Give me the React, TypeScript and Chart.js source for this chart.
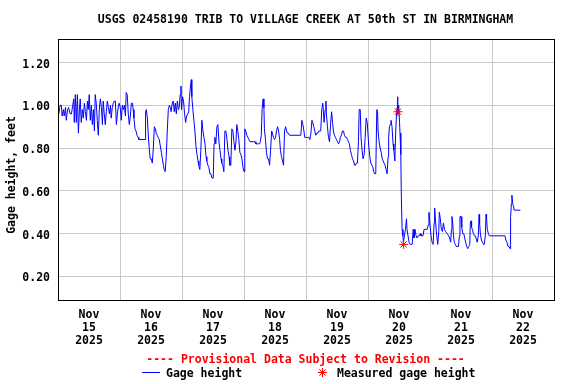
import React, { useEffect, useRef } from 'react';
import { Chart, registerables } from 'chart.js';

Chart.register(...registerables);

const TITLE = 'USGS 02458190 TRIB TO VILLAGE CREEK AT 50th ST IN BIRMINGHAM';
const Y_TITLE = 'Gage height, feet';
const PROVISIONAL = '---- Provisional Data Subject to Revision ----';
const LEGEND_LINE = 'Gage height';
const LEGEND_STAR = 'Measured gage height';

// hours since Nov 15 2025 00:00
const hours = [
  -11.7, -11.2, -10.7, -10.4, -9.9, -9.6, -9.1, -8.8, -8.3, -7.9, -7.3, -6.8, -6.3, -5.9, -5.7, -5.3, -4.9, -4.5, -4.1, -3.7,
  -3.4, -3.0, -2.6, -2.2, -1.8, -1.4, -1.0, -0.6, -0.3, 0.1, 0.5, 0.9, 1.3, 1.7, 2.1, 2.4, 2.8, 3.2, 3.6, 4.0,
  4.4, 4.8, 5.2, 5.5, 5.9, 6.3, 6.7, 7.1, 7.5, 7.9, 8.3, 8.6, 9.0, 9.4, 9.8, 10.2, 10.6, 11.0, 11.4, 11.7,
  12.1, 12.5, 12.9, 13.3, 13.7, 14.1, 14.4, 14.8, 15.2, 15.6, 16.0, 16.4, 16.8, 17.1,
  17.4, 17.8, 18.2, 18.6, 19.0, 19.3, 21.7, 21.9, 22.2, 22.6, 22.9, 23.3, 23.7, 24.1, 24.5, 24.9, 25.3, 25.7, 26.0, 26.4,
  26.8, 27.2, 27.6, 28.0, 28.4, 28.8, 29.1, 29.5, 29.9, 30.3, 30.7, 31.1, 31.5, 31.8, 32.2, 32.6, 33.0, 33.4, 33.8, 34.2,
  34.6, 34.9, 35.3, 35.6, 35.8, 36.2, 36.6, 37.0, 37.4, 37.8, 38.2, 38.6, 38.9, 39.3, 39.6, 39.8, 40.2, 40.6, 41.0, 41.4,
  41.8, 42.2, 42.5, 42.9, 43.3, 43.7, 44.1, 44.5, 44.9, 45.3, 45.6, 46.0, 46.4, 46.8, 47.2, 47.6,
  48.1, 48.4, 48.7, 49.1, 49.5, 49.9, 50.3, 50.7, 51.1, 51.4, 51.8, 52.2, 52.6, 53.0, 53.4, 53.8, 54.2, 54.5, 54.9, 55.3,
  55.7, 56.1, 56.5, 56.9, 57.2, 57.6, 58.0, 58.4, 58.8, 59.2, 59.6, 60.0, 60.3, 60.7, 61.1, 61.5, 61.9, 62.3, 64.3, 64.6,
  65.6, 66.0, 66.3, 66.7, 67.0, 67.4, 67.7, 67.9, 68.3, 68.7, 69.1, 69.5, 69.9, 70.3, 70.7, 71.0, 71.4, 71.8, 72.2, 72.6,
  73.0, 73.4, 73.8, 74.1, 74.5, 74.9, 75.3, 75.7, 76.1, 76.5, 76.8, 77.2, 77.6,
  82.0, 82.4, 82.8, 83.2, 83.5, 83.9, 84.3, 84.7, 85.1, 85.5, 85.9, 86.3, 86.6, 87.0, 87.4, 87.8, 88.2, 88.6, 89.0, 89.4,
  89.7, 90.1, 90.5, 90.8, 91.0, 91.4, 91.7, 91.9, 92.3, 92.7, 93.1, 93.5, 93.9, 94.3, 94.6, 95.0, 95.4, 95.8, 96.2, 96.6,
  97.0, 97.3, 97.7, 98.1, 98.5, 98.9, 99.3, 99.7, 100.1, 100.4, 100.8, 101.2, 101.6, 102.0, 102.4, 102.8, 103.1, 103.5, 103.9, 104.3,
  104.6, 105.0, 105.3, 105.7, 106.1, 106.5, 106.9, 107.3, 107.7,
  108.3, 108.7, 109.1, 109.5, 109.9, 110.2, 110.6, 111.0, 111.4, 111.7, 111.9, 112.3, 112.7, 113.1, 113.5, 113.8, 114.2, 114.6, 115.0, 115.4,
  115.8, 116.0, 116.3, 116.6, 116.9, 117.3, 117.7, 118.0, 118.4, 118.7, 119.0, 119.3, 119.4, 119.6, 119.9, 120.2, 120.4, 120.7, 120.9, 121.2,
  121.5, 121.7, 122.1, 122.5, 122.9, 123.1, 123.5, 123.9, 124.3, 124.7, 125.1, 125.5, 125.8, 126.2, 126.6, 127.0, 127.4, 127.8, 128.2, 128.5,
  128.9, 129.3, 129.7, 130.1, 130.5, 130.9, 131.3, 131.6, 132.0, 132.4, 132.8, 133.2, 133.6, 133.8, 134.2, 134.6, 135.0, 135.4, 135.6, 136.0,
  136.4, 136.8, 137.2, 137.6, 138.0,
  138.7, 139.2, 139.6, 140.0, 140.3, 140.5, 140.8, 141.1, 141.4, 141.8, 142.2, 143.0, 143.4, 143.6, 144.0, 144.3, 144.7, 145.1, 145.4, 145.8,
  146.2, 146.6, 147.0, 147.4, 147.6, 147.9, 148.1, 148.4, 148.8, 149.2, 149.6, 150.0, 150.3, 150.7, 151.0, 151.2, 151.5, 151.9, 152.3, 152.7,
  153.0, 153.4, 153.7, 153.9, 154.2, 154.6, 155.0, 161.0, 161.4, 161.8, 162.2, 162.6, 163.0, 163.2, 163.5, 163.7, 164.0, 164.3, 164.6, 167.0,
];

// gage height, feet
const gageHeight = [
  0.96, 1.00, 1.00, 0.95, 0.98, 0.95, 0.99, 0.93, 0.98, 0.99, 0.96, 0.96, 1.00, 1.03, 0.92, 1.05, 0.92, 1.05, 0.87, 0.98,
  1.03, 0.92, 0.98, 0.94, 1.01, 0.97, 0.93, 1.02, 0.98, 1.05, 0.93, 1.00, 0.91, 0.98, 0.88, 1.05, 1.01, 0.93, 0.86, 0.98,
  1.03, 0.99, 0.91, 1.02, 0.96, 0.91, 0.97, 1.02, 0.99, 0.96, 1.00, 0.94, 0.99, 1.01, 1.02, 1.02, 0.91, 0.96, 1.00, 1.01,
  0.99, 0.93, 1.00, 0.98, 1.00, 0.95, 1.06, 1.05, 0.96, 0.91, 0.95, 1.01, 1.01, 0.98,
  0.94, 0.89, 0.88, 0.86, 0.85, 0.84, 0.84, 0.97, 0.98, 0.94, 0.87, 0.80, 0.75, 0.75, 0.73, 0.80, 0.90, 0.89, 0.87, 0.86,
  0.85, 0.84, 0.81, 0.78, 0.75, 0.72, 0.70, 0.69, 0.76, 0.88, 0.98, 1.00, 0.99, 0.97, 1.01, 1.02, 0.97, 1.01, 0.96, 1.02,
  0.98, 0.99, 1.05, 1.09, 0.98, 1.04, 1.02, 0.96, 0.92, 0.95, 0.96, 0.97, 1.04, 1.09, 1.12, 1.04, 0.98, 0.93, 0.88, 0.81,
  0.77, 0.74, 0.72, 0.70, 0.79, 0.93, 0.88, 0.85, 0.82, 0.76, 0.74, 0.72, 0.71, 0.68, 0.68, 0.66,
  0.66, 0.82, 0.85, 0.82, 0.90, 0.91, 0.83, 0.79, 0.75, 0.73, 0.72, 0.69, 0.88, 0.88, 0.84, 0.79, 0.76, 0.72, 0.72, 0.89,
  0.88, 0.83, 0.79, 0.83, 0.91, 0.88, 0.84, 0.78, 0.77, 0.75, 0.71, 0.69, 0.89, 0.88, 0.86, 0.85, 0.84, 0.83, 0.83, 0.82,
  0.82, 0.82, 0.83, 0.86, 0.98, 1.03, 0.99, 0.89, 0.84, 0.78, 0.75, 0.75, 0.72, 0.79, 0.88, 0.87, 0.85, 0.84, 0.85, 0.88,
  0.90, 0.88, 0.84, 0.79, 0.76, 0.74, 0.72, 0.88, 0.90, 0.88, 0.87, 0.87, 0.86,
  0.86, 0.93, 0.91, 0.88, 0.85, 0.85, 0.85, 0.85, 0.85, 0.84, 0.87, 0.93, 0.92, 0.90, 0.88, 0.86, 0.87, 0.87, 0.88, 0.88,
  0.88, 0.98, 1.01, 0.96, 0.92, 0.98, 1.02, 0.96, 0.90, 0.85, 0.83, 0.91, 0.97, 0.92, 0.88, 0.86, 0.85, 0.84, 0.83, 0.82,
  0.83, 0.85, 0.86, 0.88, 0.88, 0.86, 0.85, 0.85, 0.84, 0.83, 0.82, 0.79, 0.77, 0.75, 0.74, 0.72, 0.72, 0.73, 0.73, 0.83,
  0.98, 0.98, 0.85, 0.79, 0.75, 0.77, 0.85, 0.94, 0.92,
  0.81, 0.76, 0.73, 0.72, 0.71, 0.69, 0.68, 0.68, 0.98, 0.97, 0.88, 0.83, 0.80, 0.78, 0.75, 0.75, 0.73, 0.72, 0.70, 0.68,
  0.76, 0.85, 0.90, 0.91, 0.93, 0.90, 0.82, 0.79, 0.74, 0.87, 0.95, 0.99, 1.04, 0.96, 1.00, 0.92, 0.87, 0.77, 0.58, 0.42,
  0.39, 0.36, 0.39, 0.42, 0.47, 0.42, 0.39, 0.36, 0.35, 0.35, 0.35, 0.42, 0.38, 0.42, 0.39, 0.38, 0.39, 0.39, 0.40, 0.39,
  0.39, 0.39, 0.42, 0.42, 0.42, 0.42, 0.44, 0.50, 0.44, 0.39, 0.36, 0.35, 0.45, 0.52, 0.45, 0.39, 0.35, 0.41, 0.50, 0.47,
  0.42, 0.41, 0.45, 0.42, 0.41,
  0.40, 0.39, 0.38, 0.36, 0.42, 0.48, 0.45, 0.39, 0.36, 0.35, 0.34, 0.34, 0.39, 0.48, 0.48, 0.43, 0.40, 0.40, 0.38, 0.36,
  0.34, 0.33, 0.34, 0.35, 0.45, 0.46, 0.43, 0.42, 0.40, 0.39, 0.39, 0.37, 0.36, 0.39, 0.49, 0.45, 0.40, 0.37, 0.36, 0.35,
  0.35, 0.39, 0.49, 0.47, 0.42, 0.40, 0.39, 0.39, 0.37, 0.36, 0.34, 0.34, 0.33, 0.48, 0.54, 0.58, 0.54, 0.53, 0.51, 0.51,
];

const measuredHours = [119.6, 121.8];
const measuredHeight = [0.97, 0.35];

const yTicks = [0.2, 0.4, 0.6, 0.8, 1.0, 1.2];
const dayTicks = [0, 24, 48, 72, 96, 120, 144, 168];
const dayLabels = ['15', '16', '17', '18', '19', '20', '21', '22'];
const monthLabel = 'Nov';
const yearLabel = '2025';
const gridHours = [12, 36, 60, 84, 108, 132, 156];
const X_MIN = -12;
const X_MAX = 180;
const Y_MIN = 0.09;
const Y_MAX = 1.31;

const FONT_FAMILY = '"DejaVu Sans Mono", monospace';
const FONT = `bold 11.5px ${FONT_FAMILY}`;
const GRID = '#c8c8c8';

function drawStar(ctx: CanvasRenderingContext2D, x: number, y: number, r: number) {
  ctx.save();
  ctx.strokeStyle = '#ff0000';
  ctx.lineWidth = 1;
  ctx.beginPath();
  for (let i = 0; i < 4; i++) {
    const a = (i * Math.PI) / 4;
    ctx.moveTo(x - r * Math.cos(a), y - r * Math.sin(a));
    ctx.lineTo(x + r * Math.cos(a), y + r * Math.sin(a));
  }
  ctx.stroke();
  ctx.restore();
}

const decorPlugin = {
  id: 'decor',
  afterDraw(chart: any) {
    const ctx: CanvasRenderingContext2D = chart.ctx;
    const a = chart.chartArea;
    ctx.save();
    // frame
    ctx.strokeStyle = '#000';
    ctx.lineWidth = 1;
    ctx.strokeRect(Math.round(a.left) + 0.5, Math.round(a.top) + 0.5, Math.round(a.right - a.left), Math.round(a.bottom - a.top));
    ctx.font = FONT;
    ctx.fillStyle = '#000';
    ctx.textAlign = 'center';
    ctx.textBaseline = 'alphabetic';
    ctx.fillText(TITLE, 305.5, 23);
    // y title
    ctx.save();
    ctx.translate(15, 175);
    ctx.rotate(-Math.PI / 2);
    ctx.fillText(Y_TITLE, 0, 0);
    ctx.restore();
    // provisional
    ctx.fillStyle = '#ff0000';
    ctx.fillText(PROVISIONAL, 305.5, 363);
    // legend
    ctx.fillStyle = '#000';
    ctx.textAlign = 'left';
    ctx.strokeStyle = '#0000ff';
    ctx.beginPath();
    ctx.moveTo(142, 372.5);
    ctx.lineTo(160, 372.5);
    ctx.stroke();
    ctx.fillText(LEGEND_LINE, 166, 376.5);
    drawStar(ctx, 322.5, 372.5, 4.5);
    ctx.fillText(LEGEND_STAR, 337, 376.5);
    ctx.restore();
  },
};

export default function App() {
  const ref = useRef<HTMLCanvasElement | null>(null);
  useEffect(() => {
    if (!ref.current) return;
    const lineData = hours.map((h, i) => ({ x: h, y: gageHeight[i] }));
    const starData = measuredHours.map((h, i) => ({ x: h, y: measuredHeight[i] }));
    const allTicks = [...dayTicks, ...gridHours].sort((p, q) => p - q);
    const chart = new Chart(ref.current, {
      type: 'line',
      data: {
        datasets: [
          {
            type: 'scatter',
            data: starData,
            pointStyle: 'star',
            pointRadius: 4.5,
            borderColor: '#ff0000',
            backgroundColor: '#ff0000',
            borderWidth: 1,
            showLine: false,
            order: 0,
          } as any,
          {
            data: lineData,
            borderColor: '#0000ff',
            borderWidth: 1,
            pointRadius: 0,
            tension: 0,
            fill: false,
            order: 1,
          },
        ],
      },
      options: {
        animation: false,
        responsive: false,
        devicePixelRatio: 1,
        layout: { padding: { left: 0, right: 22, top: 39, bottom: 0 } },
        plugins: { legend: { display: false }, tooltip: { enabled: false }, title: { display: false } },
        font: { family: FONT_FAMILY, size: 11.5, weight: 'bold' } as any,
        scales: {
          x: {
            type: 'linear',
            min: X_MIN,
            max: X_MAX,
            afterBuildTicks: (s: any) => {
              s.ticks = allTicks.map((v) => ({ value: v }));
            },
            afterFit: (s: any) => {
              s.height = 84;
            },
            grid: {
              drawTicks: false,
              color: (c: any) => (c.tick && gridHours.includes(c.tick.value) ? GRID : 'rgba(0,0,0,0)'),
              lineWidth: 1,
            },
            border: { display: false },
            ticks: {
              autoSkip: false,
              maxRotation: 0,
              minRotation: 0,
              padding: 9,
              color: '#000',
              font: { family: FONT_FAMILY, size: 11.5, weight: 'bold', lineHeight: 1.13 },
              callback: (v: any) => {
                const i = dayTicks.indexOf(Number(v));
                return i >= 0 ? [monthLabel, dayLabels[i], yearLabel] : '';
              },
            },
          },
          y: {
            type: 'linear',
            min: Y_MIN,
            max: Y_MAX,
            afterBuildTicks: (s: any) => {
              s.ticks = yTicks.map((v) => ({ value: v }));
            },
            afterFit: (s: any) => {
              s.width = 58;
            },
            grid: { drawTicks: false, color: GRID, lineWidth: 1 },
            border: { display: false },
            ticks: {
              padding: 8,
              labelOffset: 2,
              color: '#000',
              font: { family: FONT_FAMILY, size: 11.5, weight: 'bold' },
              callback: (v: any) => Number(v).toFixed(2),
            },
          },
        },
      },
      plugins: [decorPlugin],
    });
    return () => chart.destroy();
  }, []);
  return (
    <div style={{ position: 'absolute', left: 0, top: 0, width: 576, height: 384, background: '#fff' }}>
      <canvas ref={ref} width={576} height={384} style={{ display: 'block', width: 576, height: 384 }} />
    </div>
  );
}
